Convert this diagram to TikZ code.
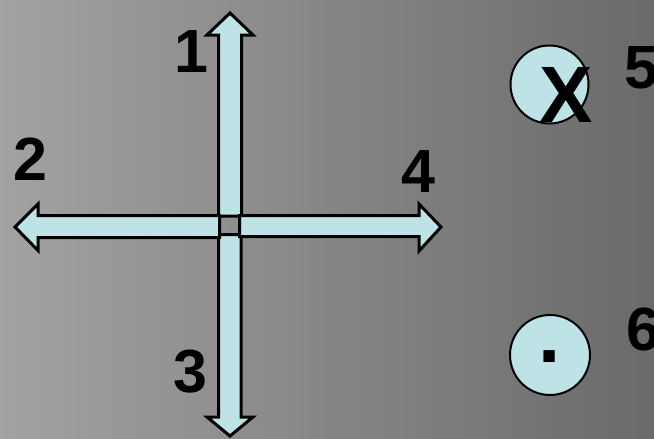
\documentclass[tikz,border=0pt]{standalone}
\usepackage{fontspec}
\setmainfont{Liberation Sans}
\definecolor{bgL}{RGB}{162,162,162}
\definecolor{bgR}{RGB}{106,106,106}
\definecolor{arrowfill}{RGB}{190,227,230}
\tikzset{
  arrowbox/.style={draw=black, line width=3pt, fill=arrowfill, line join=miter},
  markcircle/.style={draw=black, line width=2pt, fill=arrowfill},
  digit/.style={inner sep=0pt, anchor=base, font=\fontsize{61}{61}\selectfont\bfseries},
  bigmark/.style={inner sep=0pt, anchor=base, font=\fontsize{80}{80}\selectfont\bfseries}
}
\begin{document}
\begin{tikzpicture}[x=1pt,y=-1pt]
\shade[left color=bgL, right color=bgR] (0,0) rectangle (654,439);
\useasboundingbox (0,0) rectangle (654,439);
% up arrow
\draw[arrowbox] (218.5,216) -- (218.5,35) -- (207,35) -- (230,13) -- (253,35) -- (241.5,35) -- (241.5,216) -- cycle;
% down arrow
\draw[arrowbox] (218.5,234.5) -- (218.5,417) -- (207,417) -- (230,436) -- (253,417) -- (241,417) -- (241,234.5) -- cycle;
% left arrow
\draw[arrowbox] (219.5,215.5) -- (38,215.5) -- (38,204) -- (15,227) -- (38,250.5) -- (38,237.5) -- (219.5,237.5) -- cycle;
% right arrow
\draw[arrowbox] (239.5,215.5) -- (419,215.5) -- (419,204) -- (441,227) -- (419,251) -- (419,236.5) -- (239.5,236.5) -- cycle;
% circles
\draw[markcircle] (549.5,84.5) circle[radius=39];
\draw[markcircle] (550,355) circle[radius=40];
\node[bigmark] (xmark) at (566,122) {X};
\node[bigmark] (dotmark) at (550,362) {.};
% labels
\node[digit] (l1) at (191,72) {1};
\node[digit] (l2) at (30,180) {2};
\node[digit] (l3) at (190,392) {3};
\node[digit] (l4) at (418.5,192) {4};
\node[digit] (l5) at (641,88) {5};
\node[digit] (l6) at (643,350) {6};
\end{tikzpicture}
\end{document}
